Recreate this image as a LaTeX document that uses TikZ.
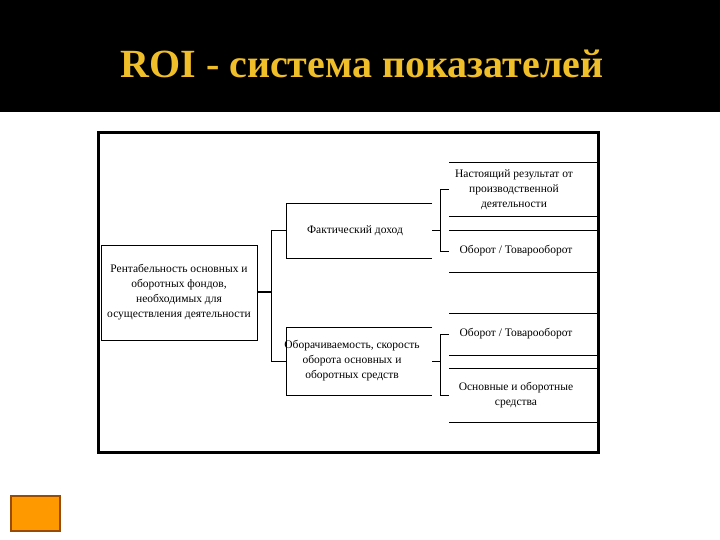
\documentclass[tikz,border=0pt]{standalone}
\usepackage{fontspec}
\setmainfont{Liberation Serif}
\definecolor{gold}{RGB}{240,190,40}
\begin{document}
\begin{tikzpicture}[x=1pt,y=-1pt,
  txt/.style={align=center,font=\fontsize{11.5}{15}\selectfont,inner sep=0pt},
  ln/.style={line width=1pt}]
\useasboundingbox (0,0) rectangle (720,540);
\fill[white] (0,0) rectangle (720,540);
\fill[black] (0,0) rectangle (720,112);
\node[text=gold,font=\bfseries\fontsize{40}{46}\selectfont] (title) at (362,64) {ROI - система показателей};
\draw[line width=3pt] (98,133) rectangle (598,452);
% left box
\draw[ln] (101,245) rectangle (257,340);
\node[txt] (l) at (179,292) {Рентабельность основных и\\оборотных фондов,\\необходимых для\\осуществления деятельности};
% mid boxes
\draw[ln] (432,204) -- (286,204) -- (286,258) -- (432,258);
\node[txt] (m1) at (355,231) {Фактический доход};
\draw[ln] (432,327) -- (286,327) -- (286,395) -- (432,395);
\node[txt] (m2) at (352,361) {Оборачиваемость, скорость\\оборота основных и\\оборотных средств};
% right boxes
\draw[ln] (449,163) -- (597,163) -- (597,217) -- (449,217);
\node[txt] (r1) at (514,190) {Настоящий результат от\\производственной\\деятельности};
\draw[ln] (449,231) -- (597,231) -- (597,272) -- (449,272);
\node[txt] (r2) at (516,251) {Оборот / Товарооборот};
\draw[ln] (449,313) -- (597,313) -- (597,355) -- (449,355);
\node[txt] (r3) at (516,334) {Оборот / Товарооборот};
\draw[ln] (449,368) -- (597,368) -- (597,422) -- (449,422);
\node[txt] (r4) at (516,395) {Основные и оборотные\\средства};
% connectors
\coordinate (a) at (271,292);
\draw[line width=1.5pt] (257,292) -- (a);
\draw[ln] (286,231) -- (271,231) -- (271,361) -- (286,361);
\draw[ln] (432,231) -- (440,231);
\draw[ln] (449,190) -- (440,190) -- (440,251) -- (449,251);
\draw[ln] (432,361) -- (440,361);
\draw[ln] (449,334) -- (440,334) -- (440,395) -- (449,395);
% button
\draw[line width=2pt,draw=orange!60!black,fill=orange!80!yellow] (11,496) rectangle (60,531);
\end{tikzpicture}
\end{document}
